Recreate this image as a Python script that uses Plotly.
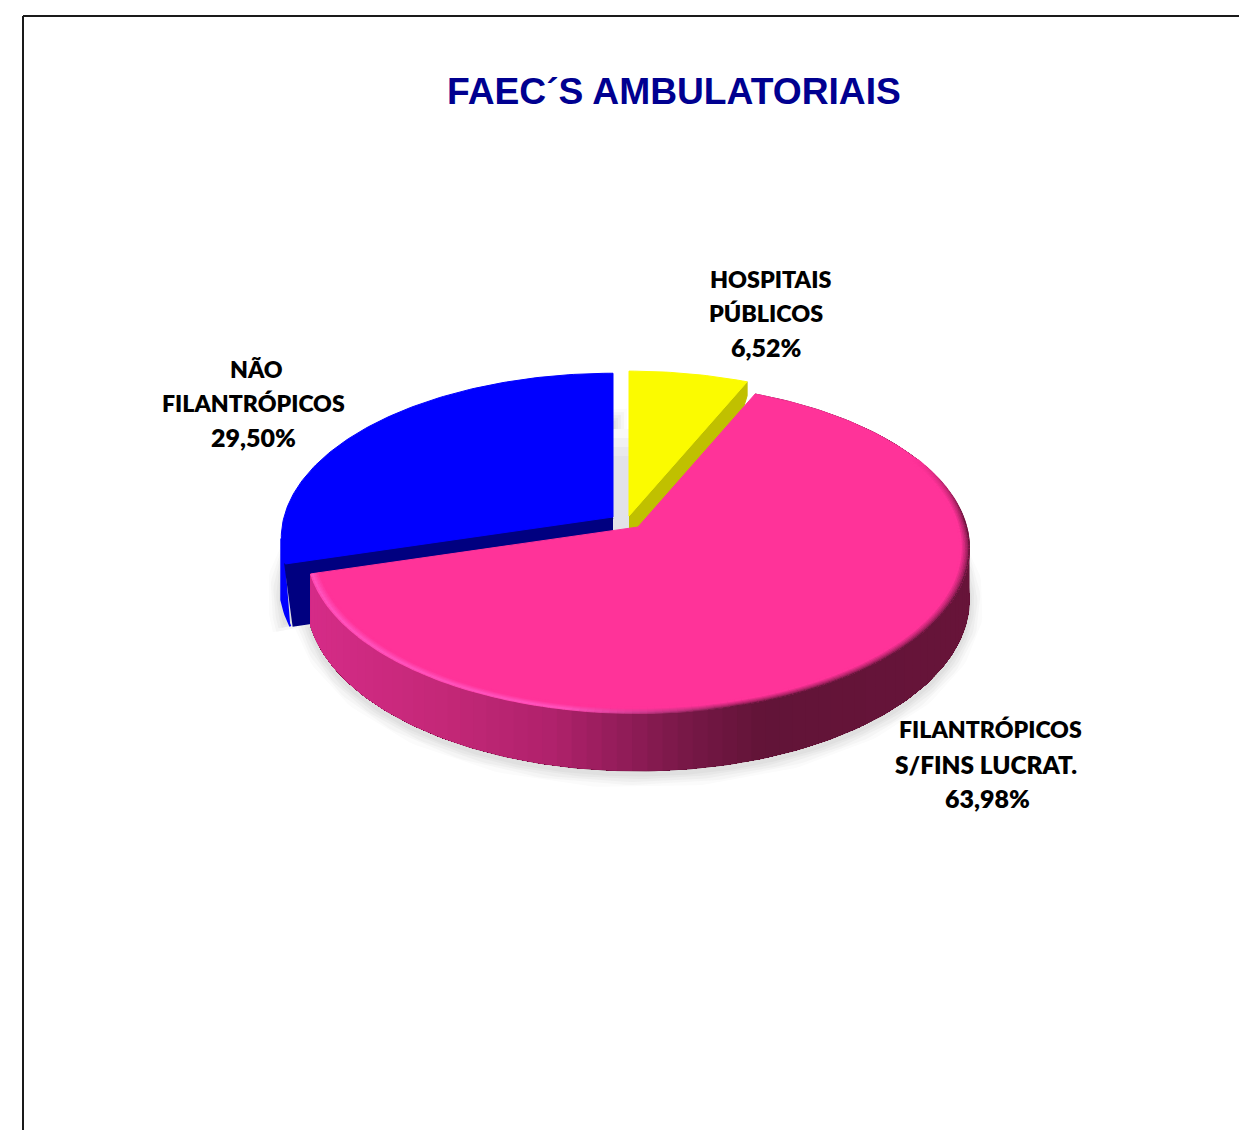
import numpy as np
import plotly.graph_objects as go

# ---- data ----
categories = ["HOSPITAIS PÚBLICOS", "FILANTRÓPICOS S/FINS LUCRAT.", "NÃO FILANTRÓPICOS"]
values = [6.52, 63.98, 29.50]
value_labels = ["6,52%", "63,98%", "29,50%"]
label_lines = [["HOSPITAIS", "PÚBLICOS", "6,52%"],
               ["FILANTRÓPICOS", "S/FINS LUCRAT.", "63,98%"],
               ["NÃO", "FILANTRÓPICOS", "29,50%"]]
title_text = "FAEC´S AMBULATORIAIS"

# ---- style / layout ----
W, H = 1239, 1130
top_colors = ["#FBFB00", "#FF3399", "#0000FF"]
inner_colors = ["#C0C000", "#8A1A55", "#000080"]
centers = [(629, 516), (638, 527), (613, 517)]
scales = [1.015, 1.005, 1.006]
depths = [14, 57, 68]
RX, RY, PERSP = 327.0, 161.3, 0.128
label_pos = [[(770, 279), (766, 313), (766, 347)],
             [(990, 729), (986, 764), (987, 798)],
             [(256, 369), (253, 403), (253, 437)]]
label_sizes = [[23.3, 23.3, 25], [23.1, 24.4, 25], [23.1, 23.1, 25]]


def project(t, i, scale=1.0):
    c = centers[i]
    X, Y = np.sin(t) * scale * scales[i], np.cos(t) * scale * scales[i]
    w = 1 + PERSP * Y
    return c[0] + RX * X / w, c[1] - RY * Y / w, w


def drop(w, d):
    return d * 0.885 / w


bounds = np.cumsum([0] + values) / sum(values) * 2 * np.pi
fig = go.Figure()


def poly(x, y, fill, line=None, width=1):
    fig.add_trace(go.Scatter(x=list(x), y=list(y), mode="lines", fill="toself", fillcolor=fill,
                             line=dict(color=line or fill, width=width), hoverinfo="skip", showlegend=False))


def stroke(x, y, color, width):
    fig.add_trace(go.Scatter(x=list(x), y=list(y), mode="lines", line=dict(color=color, width=width),
                             hoverinfo="skip", showlegend=False))


def interp_rgb(pos, stops):
    xs = [s[0] for s in stops]
    return np.array([np.interp(pos, xs, [s[1][i] for s in stops]) for i in range(3)])


def css(rgb):
    return "rgb(%d,%d,%d)" % tuple(rgb)


arc = [np.linspace(bounds[i], bounds[i + 1], max(8, int((bounds[i + 1] - bounds[i]) * 60))) for i in range(3)]

# soft drop shadow below the pie
for width, shade in [(28, "#FBFBFB"), (22, "#F5F5F5"), (16, "#EEEEEE"), (10, "#E7E7E7"), (5, "#E0E0E0")]:
    for i in (1, 2):
        x, y, w = project(arc[i], i)
        d = depths[i] - (8 if i == 2 else 0)
        sy = y + drop(w, d) + 3
        ax, ay = centers[i]
        poly(np.r_[ax, x, ax], np.r_[ay + 40, sy, ay + 40], shade, shade, width)

# grey shadow seen in the gap between blue and yellow
gap_left, gap_right = centers[2][0], centers[0][0]
for k, shade in enumerate(["#F8F8F8", "#F0F0F2", "#E8E8EC", "#E2E2E8"]):
    top = centers[0][1] - 87 + k * 9
    poly([gap_left, gap_right, gap_right, gap_left], [top, top, centers[1][1] + 5, centers[1][1] + 5], shade, shade, 0)

# blue slice: outer wall silhouette, cut wall, top face
i = 2
x, y, w = project(arc[i], i)
n_left = int(np.argmin(x)) + 1
wx, wy, ww = x[:n_left], y[:n_left], w[:n_left]
lower = drop(ww, depths[i])
inset = np.interp(wy + lower, [wy.min() + lower.min(), wy.max() + lower.max()], [0, 5])
poly(np.r_[wx, (wx + inset)[::-1]], np.r_[wy, (wy + lower)[::-1]], top_colors[i], top_colors[i], 2)
e_x, e_y = x[0], y[0]
d_e = drop(w[0], depths[i])
ax, ay = centers[i]
poly([ax, e_x + 1, e_x + 9, ax], [ay, e_y + 1, e_y + d_e - 2, ay + d_e - 2], inner_colors[i], inner_colors[i], 4)
poly(np.r_[ax, x, ax], np.r_[ay, y, ay], top_colors[i], top_colors[i], 1)

# yellow slice: the cut wall runs on behind the pink slice
i = 0
x, y, w = project(arc[i], i)
ax, ay = centers[i]
poly([ax, x[-1], x[-1], x[-1] - 6, ax], [ay, y[-1], y[-1] + depths[i], y[-1] + 2.4 * depths[i], ay + 4 * depths[i]],
     inner_colors[i], inner_colors[i], 1)
poly(np.r_[ax, x, ax], np.r_[ay, y, ay], top_colors[i], top_colors[i], 1)

# pink slice: shaded outer wall, painted back to front so no seams appear
i = 1
c = centers[i]
wall_stops = [(310, (214, 44, 136)), (450, (196, 40, 120)), (560, (176, 34, 108)), (640, (142, 28, 86)),
              (700, (118, 24, 70)), (770, (98, 20, 56)), (980, (104, 21, 58))]
tt = np.linspace(bounds[1], bounds[2], 200)
x, y, w = project(tt, i)
yb = y + drop(w, depths[i])
for k in range(0, len(tt) - 1, 2):
    poly(np.r_[x[k:], x[k:][::-1]], np.r_[y[k:], yb[k:][::-1]], css(interp_rgb(x[k], wall_stops)), None, 1 if k == 0 else 0)

# pink top face
poly(np.r_[c[0], x, c[0]], np.r_[c[1], y, c[1]], top_colors[i], top_colors[i], 1)

# bevel: soft dark rim on the right, bright rim on the left of the front edge
pink = np.array([255, 51, 153])
dark_rim = np.array([104, 22, 60])
bright_rim = np.array([255, 84, 190])
bevel_t = tt[np.cos(tt) < 0.45]
bevel_scales = np.linspace(0.998, 0.974, 6)
for n, scale in enumerate(bevel_scales):
    p = n / (len(bevel_scales) - 1)
    bx, by, _ = project(bevel_t, i, scale)
    for k in range(0, len(bevel_t) - 1):
        fade = np.clip((0.45 - np.cos(bevel_t[k])) / 0.4, 0, 1)
        s = np.clip((bx[k] - 570) / 170, 0, 1)
        dark = dark_rim + (pink - dark_rim) * p ** 0.7
        bright = bright_rim + (pink - bright_rim) * abs(p - 0.2) / 0.8
        target = bright * (1 - s) + dark * s
        stroke(bx[k:k + 2], by[k:k + 2], css(pink + (target - pink) * fade), 2.5)

# frame running off the page at right and bottom
fig.add_shape(type="line", x0=23, x1=W + 5, y0=16, y1=16, line=dict(color="#1A1A1A", width=2))
fig.add_shape(type="line", x0=23, x1=23, y0=16, y1=H + 5, line=dict(color="#1A1A1A", width=2))

# labels
for lines, positions, sizes in zip(label_lines, label_pos, label_sizes):
    for text, (px, py), size in zip(lines, positions, sizes):
        fig.add_annotation(x=px, y=py, text=text, showarrow=False, xanchor="center", yanchor="middle",
                           font=dict(family="Lato", size=size, color="#000000", weight=800))

fig.add_annotation(x=674, y=91, text="<b>%s</b>" % title_text, showarrow=False, xanchor="center", yanchor="middle",
                   font=dict(family="Liberation Sans", size=37.2, color="#000090"))

fig.update_layout(width=W, height=H, margin=dict(l=0, r=0, t=0, b=0), paper_bgcolor="white", plot_bgcolor="white",
                  showlegend=False,
                  xaxis=dict(range=[0, W], visible=False, fixedrange=True),
                  yaxis=dict(range=[H, 0], visible=False, fixedrange=True))
fig.write_html("out.html", config=dict(displayModeBar=False),
               post_script="document.body.style.margin='0';document.body.style.overflow='hidden';")
